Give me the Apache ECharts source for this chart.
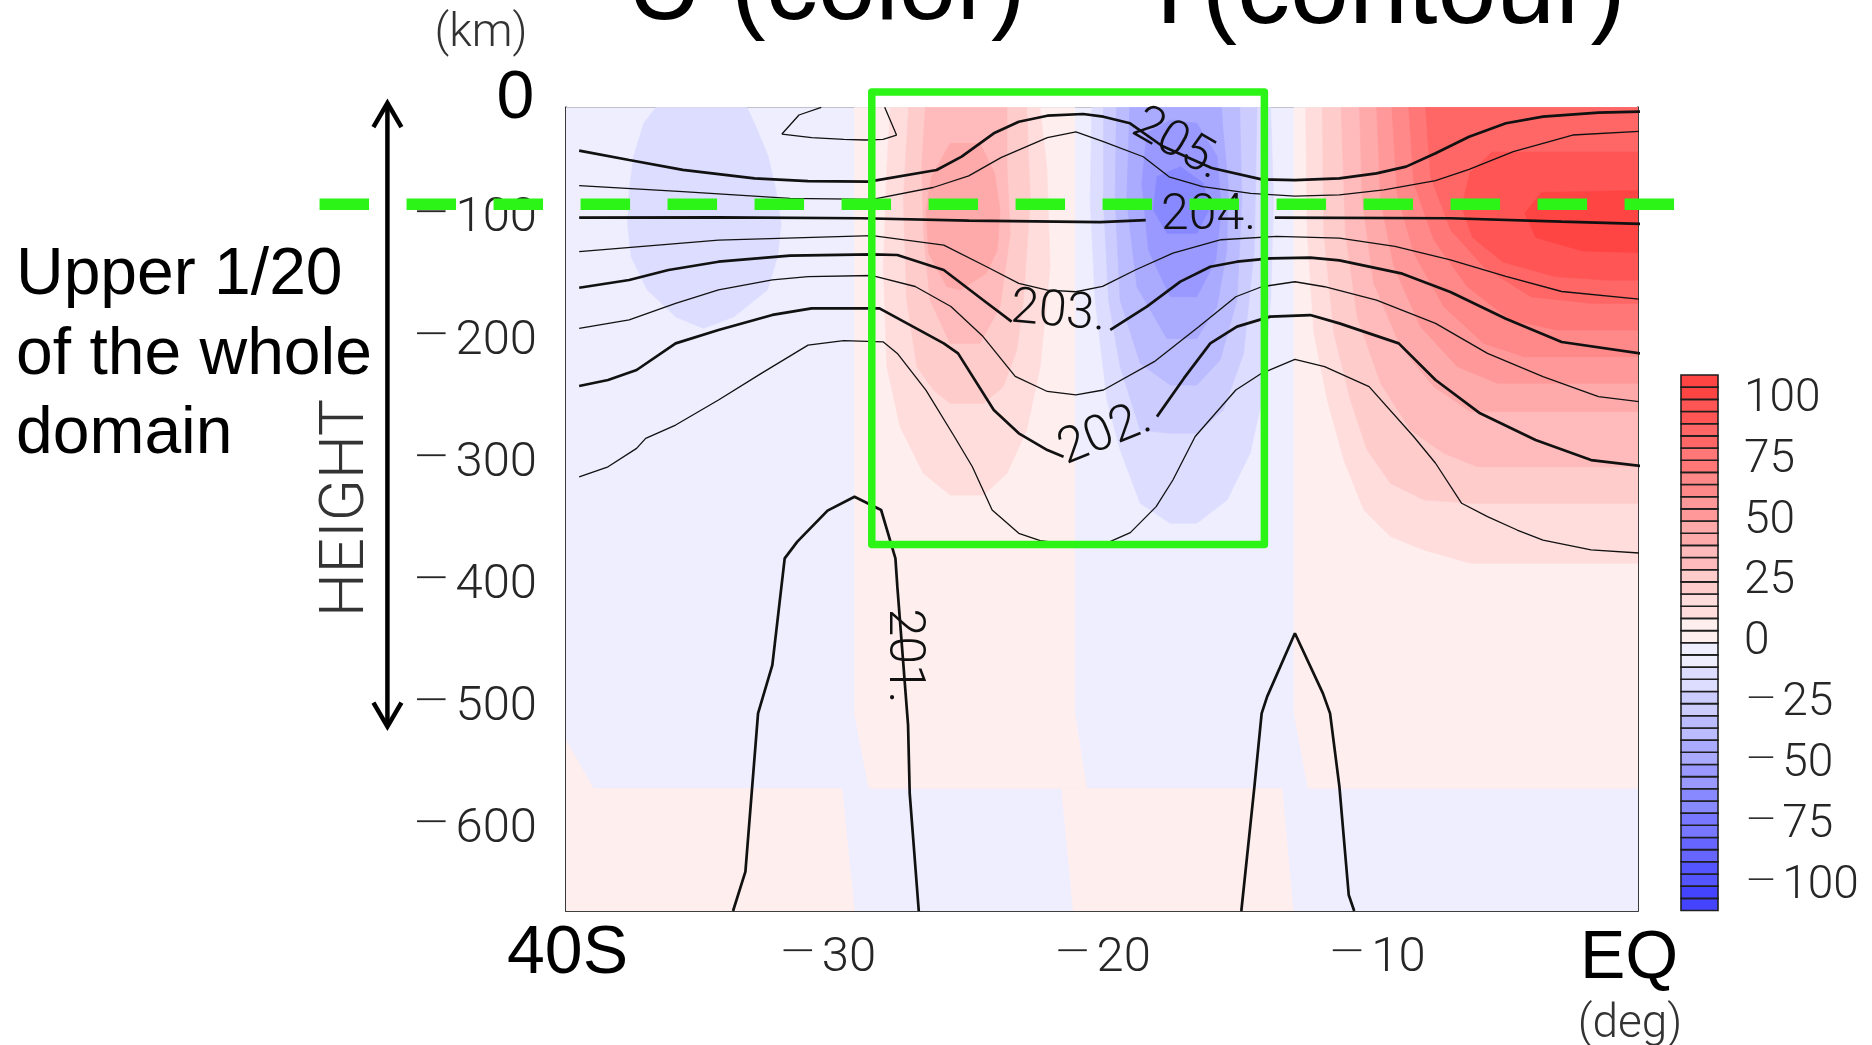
<!DOCTYPE html>
<html>
<head>
<meta charset="utf-8">
<script src="https://cdn.jsdelivr.net/npm/echarts@6/dist/echarts.min.js"></script>
<style>
  html, body { margin: 0; padding: 0; background: #ffffff; }
  #main { width: 1872px; height: 1045px; }
</style>
</head>
<body>
<div id="main"></div>
<script>
// ---------------- axes ----------------
const latMin = -39.5, latMax = -0.5;          // deg
const hgtMin = -666.7, hgtMax = -8.3;         // km
const latMajorTicks = [-30, -20, -10];
const latMinorTicks = [-38, -36, -34, -32, -28, -26, -24, -22, -18, -16, -14, -12, -8, -6, -4, -2];
const hgtMajorTicks = [-600, -500, -400, -300, -200, -100];
const hgtMinorTicks = [-650, -550, -450, -350, -250, -150, -50];

// ---------------- colour scale (U, shaded every 10, boxes every 5) ----------------
const barLevels = [-110, -105, -100, -95, -90, -85, -80, -75, -70, -65, -60, -55, -50, -45, -40, -35, -30, -25, -20, -15, -10, -5,
                   0, 5, 10, 15, 20, 25, 30, 35, 40, 45, 50, 55, 60, 65, 70, 75, 80, 85, 90, 95, 100, 105, 110];
const barLabelValues = [-100, -75, -50, -25, 0, 25, 50, 75, 100];
const redShades  = ['#ffeeee', '#ffdddd', '#ffcccc', '#ffbbbb', '#ffaaaa', '#ff9999', '#ff8888', '#ff7777', '#ff6666', '#ff5555', '#ff4444'];
const blueShades = ['#eeeeff', '#ddddff', '#ccccff', '#bbbbff', '#aaaaff', '#9999ff', '#8888ff', '#7777ff', '#6666ff', '#5555ff', '#4444ff'];

// ---------------- U shading: regions at or above each level (lat, height) ----------------
const uBackground = [[-40, 10], [0.5, 10], [0.5, -700], [-40, -700]];
const uPosLowerA = [[-40, -507.5], [-38.5, -566.2], [-29.46, -566.2], [-28.85, -700], [-40, -700]];
const uPosUpperB = [[-29.0, 10], [-29.0, -504.8], [-28.48, -566.2], [-20.55, -566.2], [-20.98, -504.8], [-20.98, 10]];
const uPosLowerC = [[-21.46, -566.2], [-13.44, -566.2], [-12.9, -700], [-20.9, -700]];
const uPosUpperD = [[-13.0, 10], [-13.0, -504.8], [-12.49, -566.2], [0.5, -566.2], [0.5, 10]];

const uWest2 = [[-35.6, 10], [-33.3, 10], [-32.64, -21.4], [-32.14, -48.7], [-31.86, -76], [-31.67, -103.4], [-31.8, -130.7],
                [-32.17, -158], [-33.4, -180], [-34.5, -189.4], [-35.5, -180], [-36.54, -158], [-37.13, -130.7],
                [-37.26, -103.4], [-37.2, -76], [-37.04, -48.7], [-36.67, -21.4]];

const uMid2 = [[-27.7, 10], [-27.7, -10.5], [-27.82, -56.9], [-27.95, -138.9], [-27.82, -220.8], [-27.34, -270], [-26.49, -308.2],
               [-25.52, -326], [-24.3, -326], [-23.45, -308.2], [-22.73, -272.7], [-22.24, -220.8], [-21.88, -138.9],
               [-22.0, -57], [-22.24, -10.5], [-22.24, 10]];
const uMid3 = [[-27.04, 10], [-27.04, -10.5], [-27.22, -84.2], [-27.1, -166.2], [-26.73, -220.8], [-26.13, -239.9], [-25.52, -250.8],
               [-24.3, -250.8], [-23.58, -237.2], [-23.09, -207.1], [-22.85, -166.2], [-22.6, -84.2], [-22.73, -10.5], [-22.73, 10]];
const uMid4 = [[-26.37, 10], [-26.55, -57], [-26.49, -111.5], [-26.25, -166.2], [-25.52, -201.7], [-24.43, -201.7],
               [-23.7, -171.6], [-23.33, -111.5], [-23.45, -57], [-23.45, 10]];
const uMid5 = [[-25.52, -37.8], [-24.43, -37.8], [-23.9, -62.4], [-23.7, -92.4], [-23.8, -125.2], [-24.2, -144.3],
               [-25.15, -158], [-25.64, -155.2], [-26.3, -127.9], [-26.4, -92.4], [-26.2, -65.1]];

const uTrough2 = [[-20.36, 10], [-20.36, -10.5], [-20.42, -84.2], [-20.24, -166.2], [-19.81, -248.1], [-19.33, -289.0], [-18.6, -332.7],
                  [-17.51, -349.1], [-16.54, -349.1], [-15.44, -330.0], [-14.6, -291.8], [-14.17, -248.1], [-13.85, -166.2],
                  [-13.75, -84.2], [-13.85, -10.5], [-13.85, 10]];
const uTrough3 = [[-19.94, 10], [-19.94, -84.2], [-19.75, -166.2], [-19.33, -220.8], [-18.6, -272.7], [-17.51, -275.4],
                  [-16.54, -275.4], [-15.57, -256.3], [-14.84, -209.9], [-14.45, -125.2], [-14.35, -10.5], [-14.35, 10]];
const uTrough4 = [[-19.45, 10], [-19.51, -84.2], [-19.33, -166.2], [-18.6, -218.0], [-17.51, -235.8], [-16.54, -235.8],
                  [-15.69, -215.3], [-15.08, -166.2], [-14.9, -84.2], [-15.0, 10]];
const uTrough5 = [[-18.95, 10], [-19.09, -84.2], [-18.72, -155.2], [-17.63, -197.6], [-16.54, -197.6], [-15.81, -171.6],
                  [-15.45, -125.2], [-15.4, -70.6], [-15.6, -24.2], [-15.7, 10]];
const uTrough6 = [[-18.36, -29.6], [-18.54, -70.6], [-18.3, -125.2], [-17.51, -163.4], [-16.54, -163.4], [-15.85, -133.4],
                  [-15.65, -92.4], [-15.8, -48.7], [-16.54, -21.4], [-17.51, -18.7]];
const uTrough7 = [[-17.99, -65.1], [-18.12, -92.4], [-17.63, -111.5], [-16.54, -111.5], [-16.1, -92.4], [-16.3, -70.6], [-17.14, -56.9]];

const uEq2 = [[-12.58, 10], [-12.58, -10.5], [-12.52, -111.5], [-12.28, -193.5], [-11.79, -248.1], [-11.19, -297.2], [-10.46, -338.2],
              [-9.49, -360.0], [-8.27, -371.0], [-6.58, -381.9], [0.5, -381.9], [0.5, 10]];
const uEq3 = [[-11.98, 10], [-11.92, -111.5], [-11.55, -193.5], [-10.95, -248.1], [-10.34, -289.0], [-9.49, -316.4], [-8.27, -330.0],
              [-6.58, -332.7], [0.5, -332.7], [0.5, 10]];
const uEq4 = [[-11.31, 10], [-11.13, -111.5], [-10.7, -179.8], [-9.85, -234.4], [-8.76, -272.7], [-7.55, -291.8], [-6.33, -302.7],
              [0.5, -302.7], [0.5, 10]];
const uEq5 = [[-10.64, 10], [-10.52, -84.2], [-10.1, -152.5], [-9.12, -204.4], [-7.91, -237.2], [-6.58, -257.6], [0.5, -257.6], [0.5, 10]];
const uEq6 = [[-10.03, 10], [-9.85, -84.2], [-9.37, -138.9], [-8.4, -188.0], [-7.06, -220.8], [-5.6, -234.4], [0.5, -234.4], [0.5, 10]];
const uEq7 = [[-9.49, 10], [-9.25, -78.8], [-8.64, -127.9], [-7.55, -171.6], [-6.09, -201.7], [-4.63, -212.6], [0.5, -212.6], [0.5, 10]];
const uEq8 = [[-8.88, 10], [-8.64, -70.6], [-7.91, -117.0], [-6.7, -155.2], [-5.12, -182.6], [-3.42, -190.7], [0.5, -190.7], [0.5, 10]];
const uEq9 = [[-8.27, 10], [-8.03, -65.1], [-7.3, -108.8], [-6.09, -138.9], [-4.39, -163.4], [-2.21, -168.9], [0.5, -168.9], [0.5, 10]];
const uEq10 = [[-5.8, -45], [-6.6, -62], [-6.9, -90], [-6.5, -115], [-5.4, -135], [-3.5, -147], [-1.5, -150], [0.5, -150], [0.5, -45]];
const uEq11 = [[-4.0, -78], [-4.6, -95], [-4.2, -115], [-2.5, -126], [0.5, -128], [0.5, -76]];

// painted in order: each later region lies on top of the earlier ones
const uLayers = [
  [-1, uBackground], [1, uPosLowerA], [1, uPosUpperB], [1, uPosLowerC], [1, uPosUpperD],
  [-2, uWest2],
  [2, uMid2], [3, uMid3], [4, uMid4], [5, uMid5],
  [-2, uTrough2], [-3, uTrough3], [-4, uTrough4], [-5, uTrough5], [-6, uTrough6], [-7, uTrough7],
  [2, uEq2], [3, uEq3], [4, uEq4], [5, uEq5], [6, uEq6], [7, uEq7], [8, uEq8], [9, uEq9], [10, uEq10], [11, uEq11]
];

// ---------------- T contours (lat, height) ----------------
const T2055 = [[-30.21, -8.3], [-31.02, -14.6], [-31.64, -30.2], [-30.56, -33.2], [-29.39, -34.5], [-28.61, -35.1],
               [-27.96, -34.5], [-27.47, -31.0], [-27.9, -8.3]];
const T205 = [[-39.02, -43.8], [-37.2, -51.5], [-35.25, -59.5], [-32.64, -66.5], [-30.69, -68.7], [-28.48, -69.2], [-26.01, -59.7],
              [-25.1, -48.7], [-23.93, -29.6], [-23.02, -20.1], [-21.98, -15.2], [-20.68, -13.8], [-19.94, -16.0], [-18.97, -21.4],
              [-17.8, -40.0], [-16.0, -58.0], [-14.18, -67.3], [-12.97, -67.9], [-11.35, -66.5], [-10.0, -62.4], [-8.92, -56.9],
              [-7.85, -46.0], [-6.63, -32.4], [-5.29, -21.4], [-3.94, -16.0], [-1.92, -12.7], [0.08, -11.6]];
const T2045 = [[-39.02, -72.5], [-35.25, -77.4], [-31.35, -82.9], [-28.35, -83.7], [-26.14, -74.0], [-24.84, -64.5], [-23.67, -49.5],
               [-21.98, -33.1], [-20.94, -28.4], [-19.94, -36.5], [-18.49, -48.8], [-17.55, -65.2], [-16.33, -73.3], [-14.58, -78.8],
               [-12.97, -81.0], [-11.35, -80.1], [-9.73, -76.0], [-7.85, -68.4], [-6.63, -59.1], [-5.02, -44.6], [-2.86, -31.0], [0.08, -27.4]];
const T204West = [[-39.02, -98.7], [-33.95, -98.4], [-28.74, -99.2], [-24.84, -101.2], [-20.06, -102.3], [-18.4, -100.8]];
const T204East = [[-13.7, -98.6], [-7.31, -99.2], [-3.26, -102.0], [0.08, -104.1]];
const T2035 = [[-39.02, -126.6], [-33.95, -117.1], [-28.35, -113.5], [-25.75, -121.2], [-24.19, -138.9], [-23.02, -152.6],
               [-21.98, -158.0], [-20.94, -159.4], [-19.97, -155.0], [-18.76, -141.4], [-17.41, -127.7], [-15.66, -116.8],
               [-13.64, -114.1], [-11.35, -115.4], [-9.33, -122.3], [-7.31, -133.2], [-5.29, -146.9], [-3.26, -159.2], [0.08, -166.6]];
const T203West = [[-39.02, -156.1], [-37.2, -149.8], [-35.77, -141.6], [-33.95, -134.8], [-31.35, -129.8], [-28.35, -128.8],
                  [-27.44, -129.3], [-25.75, -141.6], [-24.32, -166.2], [-23.28, -183.9]];
const T203East = [[-19.69, -190.7], [-18.36, -171.6], [-17.14, -151.1], [-16.05, -138.9], [-15.08, -134.8], [-13.87, -132.0],
                  [-12.41, -131.5], [-11.35, -133.7], [-9.06, -144.6], [-7.31, -159.6], [-5.29, -181.5], [-3.26, -200.6], [0.08, -211.5]];
const T2025 = [[-39.02, -189.4], [-37.2, -182.5], [-35.51, -168.9], [-33.95, -157.9], [-31.99, -149.7], [-30.69, -147.0],
               [-28.35, -146.1], [-26.79, -155.1], [-25.49, -171.5], [-24.32, -196.1], [-23.15, -228.8], [-21.98, -241.1],
               [-20.94, -243.8], [-19.94, -239.9], [-18.09, -216.7], [-16.47, -188.0], [-15.12, -163.5], [-14.18, -155.3],
               [-12.97, -151.2], [-11.89, -155.3], [-10.0, -166.2], [-7.85, -185.3], [-5.96, -209.9], [-3.94, -229.0],
               [-1.92, -245.4], [0.08, -250.8]];
const T202West = [[-39.02, -236.6], [-37.97, -231.7], [-36.93, -223.5], [-35.51, -201.7], [-33.95, -190.7], [-31.99, -178.4],
                  [-30.56, -173.0], [-28.09, -173.0], [-25.75, -201.7], [-25.23, -209.9], [-23.93, -256.3], [-23.02, -275.4],
                  [-21.98, -289.1], [-21.39, -294.5]];
const T202East = [[-17.99, -261.7], [-17.0, -230.0], [-16.05, -201.7], [-15.08, -188.0], [-13.87, -179.8], [-12.41, -178.5],
                  [-11.35, -185.3], [-9.19, -201.7], [-7.85, -231.7], [-6.23, -259.0], [-4.21, -280.9], [-2.19, -297.3], [0.08, -303.3]];
const T2015 = [[-39.02, -311.0], [-37.97, -302.8], [-36.93, -287.7], [-36.6, -279.5], [-35.51, -268.6], [-33.95, -248.1],
               [-32.39, -226.3], [-30.69, -203.1], [-29.39, -199.5], [-27.96, -200.4], [-27.44, -209.9], [-26.4, -240.0],
               [-25.36, -278.2], [-24.71, -302.8], [-23.99, -338.2], [-23.02, -357.3], [-22.24, -363.3], [-20.94, -366.9],
               [-19.7, -364.1], [-18.96, -356.7], [-18.02, -335.4], [-17.41, -313.6], [-16.6, -278.0], [-15.12, -239.9],
               [-14.18, -226.2], [-12.97, -214.8], [-11.89, -220.8], [-10.27, -237.1], [-8.65, -278.0], [-7.85, -299.9],
               [-6.9, -332.7], [-5.96, -343.6], [-4.88, -354.6], [-3.94, -362.8], [-2.19, -370.9], [0.08, -374.2]];
const T201West = [[-33.42, -666.7], [-32.97, -634.5], [-32.51, -504.8], [-31.99, -465.2], [-31.54, -377.8], [-31.08, -364.1],
                  [-29.98, -338.7], [-29.0, -327.3], [-28.03, -338.2], [-27.51, -377.8], [-27.44, -401.0], [-27.05, -514.3],
                  [-26.99, -570.3], [-26.66, -666.7]];
const T201East = [[-14.92, -666.7], [-14.45, -566.2], [-14.18, -504.8], [-13.98, -491.1], [-12.97, -439.2], [-11.95, -488.4],
                  [-11.69, -504.8], [-11.35, -564.8], [-11.01, -653.6], [-10.81, -666.7]];

// contour label: text, lat, height, tilt (deg, counter-clockwise)
const contourLabels = [
  ['205.', -17.26, -39.2, -30],
  ['204.', -16.11, -97.9, 0],
  ['203.', -21.58, -177.0, -5],
  ['202.', -19.87, -276.8, 22],
  ['201.', -27.25, -457.8, -90]
];

// highlighted sub-domain and the depth marker (lat, height)
const focusBox = { west: -28.37, east: -14.08, top: 4.2, bottom: -366.5 };
const upperLimit = { height: -87.7, west: -48.47, east: 0.87 };
const depthArrow = { lat: -46.0, top: -4.8, bottom: -515.6 };

// ---------------- helpers ----------------
// negative numbers get a long, thin minus drawn a size larger than the digits
const neg = v => (v < 0 ? '{m|\u2212}{d|' + Math.abs(v) + '}' : '{d|' + v + '}');
function numberRich(size, minusScale) {
  return {
    m: { fontFamily: 'Roboto', fontWeight: 100, fontSize: Math.round(size * minusScale), lineHeight: size, height: size,
         color: '#262626', verticalAlign: 'middle', padding: [0, 4, 0, 0] },
    d: { fontFamily: 'Roboto', fontWeight: 300, fontSize: size, lineHeight: size, height: size, color: '#262626', verticalAlign: 'middle' }
  };
}
function shade(level) {
  return level > 0 ? redShades[level - 1] : blueShades[-level - 1];
}
const axisColor = '#333333';
const thinFont = { fontFamily: 'Roboto', fontWeight: 300, color: '#262626' };

function latAxis(position, ticks, len, withLabels) {
  return {
    type: 'value', gridIndex: 0, position: position, min: latMin, max: latMax,
    axisLine: { show: true, onZero: false, lineStyle: { color: axisColor, width: 1.6 } },
    axisTick: { show: true, inside: true, length: len, customValues: ticks, lineStyle: { color: axisColor, width: 1.4 } },
    axisLabel: withLabels
      ? Object.assign({ show: true, customValues: ticks, formatter: neg, margin: 23, fontSize: 49, lineHeight: 49,
                        rich: numberRich(49, 1.42), showMinLabel: true, showMaxLabel: true }, thinFont)
      : { show: false },
    splitLine: { show: false }
  };
}
function hgtAxis(position, ticks, len, withLabels) {
  return {
    type: 'value', gridIndex: 0, position: position, min: hgtMin, max: hgtMax,
    axisLine: { show: true, onZero: false, lineStyle: { color: axisColor, width: 1.6 } },
    axisTick: { show: true, inside: true, length: len, customValues: ticks, lineStyle: { color: axisColor, width: 1.4 } },
    axisLabel: withLabels
      ? Object.assign({ show: true, customValues: ticks, formatter: neg, margin: 29, fontSize: 49, lineHeight: 49,
                        rich: numberRich(49, 1.42), showMinLabel: true, showMaxLabel: true }, thinFont)
      : { show: false },
    splitLine: { show: false }
  };
}
function contour(data, width) {
  return {
    type: 'line', xAxisIndex: 0, yAxisIndex: 0, data: data, showSymbol: false, symbol: 'none',
    clip: false, silent: true, z: 5,
    lineStyle: { color: '#111111', width: width }
  };
}

const THICK = 2.7, THIN = 1.3;

const option = {
  animation: false,
  backgroundColor: '#ffffff',
  grid: [
    { left: 566, top: 107.3, width: 1071.5, height: 803.7, containLabel: false },
    { left: 1681, top: 375, width: 37, height: 535.5, containLabel: false }
  ],
  xAxis: [
    latAxis('bottom', latMajorTicks, 26, true),
    latAxis('bottom', latMinorTicks, 13, false),
    latAxis('top', latMajorTicks, 26, false),
    latAxis('top', latMinorTicks, 13, false),
    { type: 'value', gridIndex: 1, min: 0, max: 1, show: false }
  ],
  yAxis: [
    hgtAxis('left', hgtMajorTicks, 26, true),
    hgtAxis('left', hgtMinorTicks, 13, false),
    hgtAxis('right', hgtMajorTicks, 26, false),
    hgtAxis('right', hgtMinorTicks, 13, false),
    {
      type: 'value', gridIndex: 1, position: 'right', min: -110, max: 110,
      axisLine: { show: false }, axisTick: { show: false }, splitLine: { show: false },
      axisLabel: Object.assign({ show: true, customValues: barLabelValues, formatter: neg, margin: 26, fontSize: 46, lineHeight: 46,
                                 rich: numberRich(46, 1.3), hideOverlap: false }, thinFont)
    }
  ],
  series: [
    {
      name: 'U', type: 'custom', xAxisIndex: 0, yAxisIndex: 0, clip: true, silent: true, z: 1,
      data: uLayers.map((layer, i) => [i, layer[0]]),
      renderItem: function (params, api) {
        const layer = uLayers[params.dataIndex];
        return {
          type: 'polygon',
          shape: { points: layer[1].map(p => api.coord(p)) },
          style: { fill: shade(layer[0]), stroke: shade(layer[0]), lineWidth: 0.6 }
        };
      }
    },
    contour(T2055, THIN),
    contour(T205, THICK),
    contour(T2045, THIN),
    contour(T204West, THICK),
    contour(T204East, THICK),
    contour(T2035, THIN),
    contour(T203West, THICK),
    contour(T203East, THICK),
    contour(T2025, THIN),
    contour(T202West, THICK),
    contour(T202East, THICK),
    contour(T2015, THIN),
    contour(T201West, THICK),
    contour(T201East, THICK),
    {
      name: 'colour bar', type: 'custom', xAxisIndex: 4, yAxisIndex: 4, silent: true, z: 2,
      data: barLevels.slice(0, -1).map((lo, i) => [lo, barLevels[i + 1]]),
      renderItem: function (params, api) {
        const lo = api.value(0), hi = api.value(1);
        const mid = (lo + hi) / 2;
        const level = mid > 0 ? Math.ceil(mid / 10) : -Math.ceil(-mid / 10);
        const p0 = api.coord([0, hi]);
        const p1 = api.coord([1, lo]);
        return {
          type: 'rect',
          shape: { x: p0[0], y: p0[1], width: p1[0] - p0[0], height: p1[1] - p0[1] },
          style: { fill: shade(level), stroke: '#1e1e1e', lineWidth: 1.6 }
        };
      }
    }
  ]
};

const chart = echarts.init(document.getElementById('main'));
chart.setOption(option);

const px = p => chart.convertToPixel({ xAxisIndex: 0, yAxisIndex: 0 }, p);
const GREEN = '#2cf417';
const sans = 'Liberation Sans, Arial, sans-serif';
const thin = 'Roboto, sans-serif';

const graphics = [];
function label(text, x, y, size, family, opts) {
  graphics.push(Object.assign({
    type: 'text', x: x, y: y, z: 100, silent: true,
    style: Object.assign({ text: text, fontSize: size, fontFamily: family, fill: '#000000', align: 'left', verticalAlign: 'middle' },
      (opts && opts.style) || {})
  }, (opts && opts.el) || {}));
}

// title and free text
label('U (color)', 627, -10, 104, sans);
label('T(contour)', 1137, -6, 106, sans);
label('(km)', 481, 34, 46, thin, { style: { align: 'center', fill: '#333333', fontWeight: 300 } });
label('(deg)', 1630, 1025, 46, thin, { style: { align: 'center', fill: '#333333', fontWeight: 300 } });
label('0', 515.5, 99, 68, sans, { style: { align: 'center' } });
label('40S', 507, 954, 68, sans);
label('EQ', 1580, 959, 68, sans);
label('HEIGHT', 347, 508, 62, thin, { style: { align: 'center', fill: '#333333', fontWeight: 300 }, el: { rotation: Math.PI / 2 } });
label('Upper 1/20', 16, 276, 66, sans);
label('of the whole', 16, 356, 66, sans);
label('domain', 16, 435, 66, sans);

// depth marker arrow
const aTop = px([depthArrow.lat, depthArrow.top]);
const aBot = px([depthArrow.lat, depthArrow.bottom]);
graphics.push({ type: 'line', z: 100, silent: true, shape: { x1: aTop[0], y1: aTop[1], x2: aBot[0], y2: aBot[1] },
  style: { stroke: '#000000', lineWidth: 4.5 } });
graphics.push({ type: 'polyline', z: 100, silent: true,
  shape: { points: [[aTop[0] - 14, aTop[1] + 24], [aTop[0], aTop[1]], [aTop[0] + 14, aTop[1] + 24]] },
  style: { stroke: '#000000', lineWidth: 4.5, fill: null, lineJoin: 'miter' } });
graphics.push({ type: 'polyline', z: 100, silent: true,
  shape: { points: [[aBot[0] - 14, aBot[1] - 24], [aBot[0], aBot[1]], [aBot[0] + 14, aBot[1] - 24]] },
  style: { stroke: '#000000', lineWidth: 4.5, fill: null, lineJoin: 'miter' } });

// contour labels
contourLabels.forEach(function (c) {
  const p = px([c[1], c[2]]);
  graphics.push({
    type: 'text', x: p[0], y: p[1], rotation: c[3] * Math.PI / 180, z: 60, silent: true,
    style: { text: c[0], fontSize: 50, fontFamily: thin, fontWeight: 300, fill: '#111111', align: 'center', verticalAlign: 'middle' }
  });
});

// highlighted sub-domain
const bTL = px([focusBox.west, focusBox.top]);
const bBR = px([focusBox.east, focusBox.bottom]);
graphics.push({ type: 'rect', z: 110, silent: true,
  shape: { x: bTL[0], y: bTL[1], width: bBR[0] - bTL[0], height: bBR[1] - bTL[1] },
  style: { fill: null, stroke: GREEN, lineWidth: 7.5, lineJoin: 'round' } });

// upper-limit dashed marker
const dW = px([upperLimit.west, upperLimit.height]);
const dE = px([upperLimit.east, upperLimit.height]);
graphics.push({ type: 'line', z: 110, silent: true,
  shape: { x1: dW[0], y1: dW[1], x2: dE[0], y2: dE[1] },
  style: { stroke: GREEN, lineWidth: 11.5, lineDash: [49.5, 37.5], lineCap: 'butt' } });

chart.setOption({ graphic: { elements: graphics } });
</script>
</body>
</html>
